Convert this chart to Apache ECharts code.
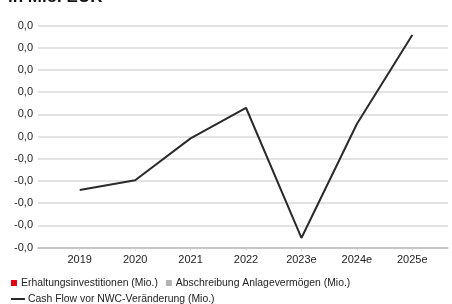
<!DOCTYPE html>
<html>
<head>
<meta charset="utf-8">
<script src="https://cdn.jsdelivr.net/npm/echarts@6/dist/echarts.min.js"></script>
<style>
html,body{margin:0;padding:0;background:#fff;}
#c{width:452px;height:304px;}
</style>
</head>
<body>
<div id="c"></div>
<script>
var titleText = "in Mio. EUR";
var categories = ["2019","2020","2021","2022","2023e","2024e","2025e"];
var erhaltung = [null,null,null,null,null,null,null];
var abschreibung = [null,null,null,null,null,null,null];
var cashFlow = [-0.00241,-0.00197,-0.00008,0.00130,-0.00457,0.00057,0.00458];
var yMin = -0.005, yMax = 0.005, yStep = 0.001;

var font = "'Liberation Sans', Arial, sans-serif";
var chart = echarts.init(document.getElementById('c'));
function fmt(v){ return v.toFixed(1).replace('.', ','); }
chart.setOption({
  animation:false,
  textStyle:{fontFamily:font},
  graphic:[{type:'text', x:8, y:-11.5, z:100, style:{text:titleText, font:"bold 17px "+font, fill:'#111'}}],
  grid:[
    {left:38, right:4, top:25.7, bottom:304-247.5},
    {left:52, right:12, top:25.7, bottom:304-247.5}
  ],
  legend:[
    {left:11, top:278, padding:0, itemWidth:6, itemHeight:6, itemGap:8, icon:'rect',
     data:['Erhaltungsinvestitionen (Mio.)','Abschreibung Anlagevermögen (Mio.)'],
     textStyle:{fontSize:10.4, color:'#222', fontFamily:font, padding:[0,0,0,-1]}},
    {left:11, top:294, padding:0, itemWidth:14, itemHeight:2, icon:'rect',
     data:['Cash Flow vor NWC-Veränderung (Mio.)'],
     textStyle:{fontSize:10.4, color:'#222', fontFamily:font, padding:[0,0,0,-2]}}
  ],
  xAxis:[
    {type:'category', gridIndex:0, data:categories, boundaryGap:true,
     axisLine:{show:true, onZero:false, lineStyle:{color:'#bdbdbd', width:1.5}},
     axisTick:{show:false}, axisLabel:{show:false}, splitLine:{show:false}},
    {type:'category', gridIndex:1, data:categories, boundaryGap:true,
     axisLine:{show:false, onZero:false},
     axisTick:{show:true, alignWithLabel:true, length:3, lineStyle:{color:'#d0d0d0'}},
     axisLabel:{fontSize:11, color:'#222', margin:7, fontFamily:font}}
  ],
  yAxis:[
    {type:'value', gridIndex:0, min:yMin, max:yMax, interval:yStep,
     axisLine:{show:false}, axisTick:{show:false},
     axisLabel:{fontSize:11, color:'#222', margin:5, formatter:fmt, fontFamily:font},
     splitLine:{lineStyle:{color:'#dadada', width:1.5}}},
    {type:'value', gridIndex:1, min:yMin, max:yMax, interval:yStep,
     axisLine:{show:false}, axisTick:{show:false}, axisLabel:{show:false}, splitLine:{show:false}}
  ],
  series:[
    {name:'Erhaltungsinvestitionen (Mio.)', type:'bar', xAxisIndex:1, yAxisIndex:1, data:erhaltung, itemStyle:{color:'#e30613'}},
    {name:'Abschreibung Anlagevermögen (Mio.)', type:'bar', xAxisIndex:1, yAxisIndex:1, data:abschreibung, itemStyle:{color:'#b4b4b4'}},
    {name:'Cash Flow vor NWC-Veränderung (Mio.)', type:'line', xAxisIndex:1, yAxisIndex:1, data:cashFlow,
     symbol:'none', lineStyle:{color:'#2a2a2a', width:2}, itemStyle:{color:'#2a2a2a'}}
  ]
});
</script>
</body>
</html>
